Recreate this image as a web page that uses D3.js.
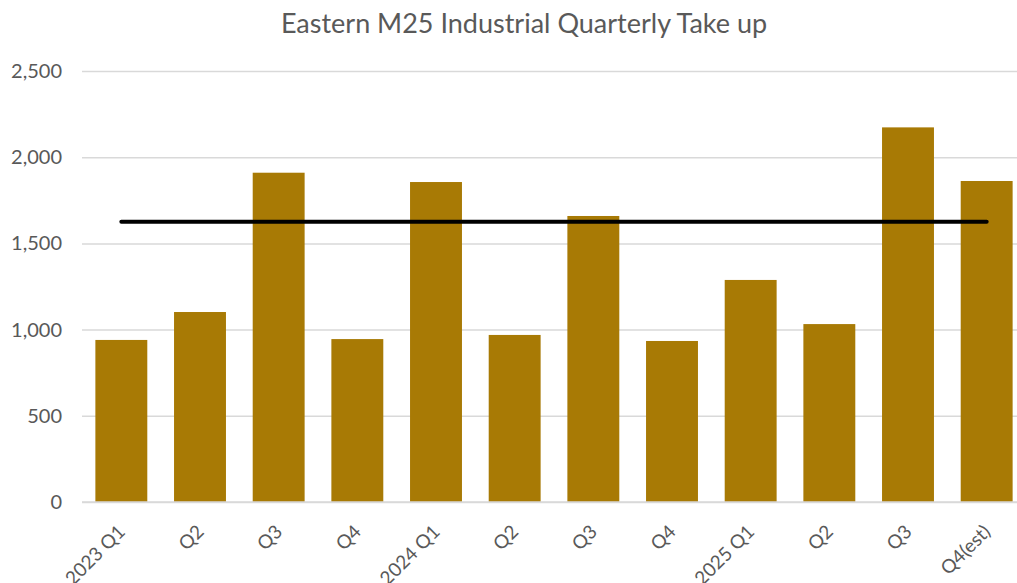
<!DOCTYPE html>
<html lang="en">
<head>
  <meta charset="UTF-8">
  <title>Eastern M25 Industrial Quarterly Take up</title>
  <style>
    body { margin: 0; background: #fff; }
    text { font-family: 'Lato', 'Open Sans', sans-serif; fill: #595959; }
    .grid line { stroke: #d9d9d9; stroke-width: 1.5px; }
    .grid path { display: none; }
  </style>
</head>
<body>
  <div id="chart"></div>
  <script src="https://cdn.jsdelivr.net/npm/d3@7"></script>
  <script>
    // Quarterly take up (sq ft, thousands)
    const quarters = ['2023 Q1', '2023 Q2', '2023 Q3', '2023 Q4',
      '2024 Q1', '2024 Q2', '2024 Q3', '2024 Q4',
      '2025 Q1', '2025 Q2', '2025 Q3', '2025 Q4(est)'];
    const labels = ['2023 Q1', 'Q2', 'Q3', 'Q4', '2024 Q1', 'Q2', 'Q3', 'Q4', '2025 Q1', 'Q2', 'Q3', 'Q4(est)'];
    const takeUp = [940, 1102, 1910, 945, 1856, 969, 1659, 934, 1288, 1032, 2173, 1862];
    const average = [1626, 1626];
    const yTicks = [0, 500, 1000, 1500, 2000, 2500];

    let width = 1017, height = 583;
    let plot = { left: 82, right: 1026, top: 71, bottom: 502 };

    let svg = d3.select('#chart').append('svg')
      .attr('width', width)
      .attr('height', height);

    let xScale = d3.scaleBand()
      .domain(quarters)
      .range([plot.left, plot.right])
      .paddingInner(0.34)
      .paddingOuter(0.17);

    let yScale = d3.scaleLinear()
      .domain([0, 2500])
      .range([plot.bottom, plot.top]);

    // Title
    svg.append('text')
      .attr('x', 524)
      .attr('y', 33)
      .attr('text-anchor', 'middle')
      .style('font-size', '27px')
      .text('Eastern M25 Industrial Quarterly Take up');

    // Gridlines + y labels
    let yAxis = svg.append('g')
      .attr('class', 'grid')
      .attr('transform', `translate(${plot.left}, 0)`)
      .call(d3.axisLeft(yScale).tickValues(yTicks).tickFormat(d3.format(',')).tickSize(-(width - plot.left)).tickPadding(20));
    yAxis.selectAll('text').style('font-size', '20px').style('fill', '#595959');

    // Bars
    svg.selectAll('.bar')
      .data(takeUp).enter()
      .append('rect')
      .attr('class', 'bar')
      .attr('x', (d, i) => xScale(quarters[i]))
      .attr('y', d => yScale(d))
      .attr('width', xScale.bandwidth())
      .attr('height', d => yScale(0) - yScale(d))
      .style('fill', '#a87a05');

    // Baseline
    svg.append('line')
      .attr('x1', plot.left).attr('x2', width)
      .attr('y1', yScale(0)).attr('y2', yScale(0))
      .style('stroke', '#d9d9d9').style('stroke-width', 1.5);

    // Average line
    let ends = [quarters[0], quarters[quarters.length - 1]];
    svg.append('path')
      .datum(average)
      .attr('d', d3.line()
        .x((d, i) => xScale(ends[i]) + xScale.bandwidth() / 2)
        .y(d => yScale(d)))
      .style('fill', 'none')
      .style('stroke', '#000')
      .style('stroke-width', 4)
      .style('stroke-linecap', 'round');

    // Rotated x labels
    svg.selectAll('.xlabel')
      .data(labels).enter()
      .append('text')
      .attr('class', 'xlabel')
      .attr('text-anchor', 'end')
      .attr('transform', (d, i) => `translate(${xScale(quarters[i]) + xScale.bandwidth() / 2 + 5}, ${plot.bottom + 31}) rotate(-45)`)
      .style('font-size', '19px')
      .text(d => d);
  </script>
</body>
</html>
